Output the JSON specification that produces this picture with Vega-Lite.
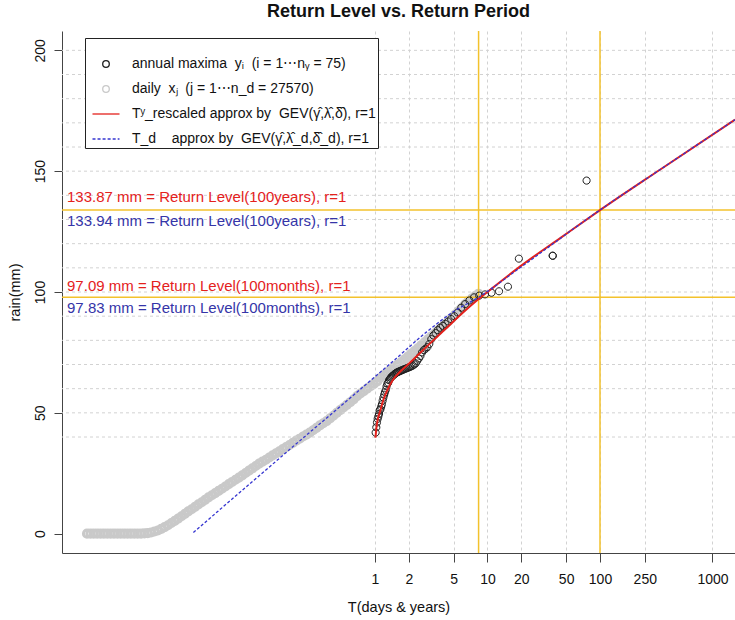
{
  "$schema": "https://vega.github.io/schema/vega-lite/v6.json",
  "width": 673,
  "height": 522,
  "autosize": {"type": "none"},
  "padding": {"left": 62, "top": 31, "right": 0, "bottom": 67},
  "background": "white",
  "title": {"text": "Return Level vs. Return Period", "fontSize": 18, "fontWeight": "bold", "font": "Liberation Sans", "color": "#111", "offset": 9},
  "config": {
    "view": {"stroke": null},
    "font": "Liberation Sans",
    "axis": {"labelFont": "Liberation Sans", "titleFont": "Liberation Sans", "labelColor": "#111", "titleColor": "#111", "domainColor": "#444", "tickColor": "#444", "labelFontSize": 14, "titleFontSize": 14.5, "titleFontWeight": "normal", "gridColor": "#d2d2d2", "gridDash": [3, 3], "gridWidth": 1}
  },
  "datasets": {
    "gridY": [{"v": 40}, {"v": 50}, {"v": 60}, {"v": 70}, {"v": 80}, {"v": 90}, {"v": 100}, {"v": 110}, {"v": 120}, {"v": 130}, {"v": 140}, {"v": 150}, {"v": 160}, {"v": 170}, {"v": 180}, {"v": 190}, {"v": 200}],
    "refT": [{"T": 8.333}, {"T": 100}],
    "refV": [{"v": 97.83}, {"v": 133.94}],
    "levelsY": [
      {"v": 133.87, "label": "133.87 mm = Return Level(100years), r=1"},
      {"v": 97.09, "label": "97.09 mm = Return Level(100months), r=1"}
    ],
    "levelsD": [
      {"v": 133.94, "label": "133.94 mm = Return Level(100years), r=1"},
      {"v": 97.83, "label": "97.83 mm = Return Level(100months), r=1"}
    ],
    "daily": [
      {"T": 0.002754, "v": 0}, {"T": 0.002951, "v": 0}, {"T": 0.003162, "v": 0}, {"T": 0.003388, "v": 0}, {"T": 0.003631, "v": 0}, {"T": 0.00389, "v": 0}, {"T": 0.004169, "v": 0}, {"T": 0.004467, "v": 0}, {"T": 0.004786, "v": 0}, {"T": 0.005129, "v": 0}, {"T": 0.005495, "v": 0}, {"T": 0.005888, "v": 0}, {"T": 0.00631, "v": 0}, {"T": 0.006761, "v": 0}, {"T": 0.007244, "v": 0}, {"T": 0.007762, "v": 0}, {"T": 0.008318, "v": 0}, {"T": 0.008913, "v": 0.1}, {"T": 0.00955, "v": 0.2}, {"T": 0.01023, "v": 0.5}, {"T": 0.01096, "v": 0.9}, {"T": 0.01175, "v": 1.3}, {"T": 0.01259, "v": 2.0}, {"T": 0.01349, "v": 2.7}, {"T": 0.01445, "v": 3.5}, {"T": 0.01549, "v": 4.4}, {"T": 0.0166, "v": 5.3}, {"T": 0.01778, "v": 6.2}, {"T": 0.01905, "v": 7.2}, {"T": 0.02042, "v": 8.2}, {"T": 0.02188, "v": 9.2}, {"T": 0.02344, "v": 10.1}, {"T": 0.02512, "v": 11.1}, {"T": 0.02692, "v": 12.1}, {"T": 0.02884, "v": 13.0}, {"T": 0.0309, "v": 14.0}, {"T": 0.03311, "v": 15.0}, {"T": 0.03548, "v": 15.9}, {"T": 0.03802, "v": 16.8}, {"T": 0.04074, "v": 17.7}, {"T": 0.04365, "v": 18.6}, {"T": 0.04677, "v": 19.5}, {"T": 0.05012, "v": 20.5}, {"T": 0.0537, "v": 21.4}, {"T": 0.05754, "v": 22.3}, {"T": 0.06166, "v": 23.2}, {"T": 0.06607, "v": 24.1}, {"T": 0.07079, "v": 25.1}, {"T": 0.07586, "v": 26.1}, {"T": 0.08128, "v": 27.0}, {"T": 0.0871, "v": 28.0}, {"T": 0.09333, "v": 29.0}, {"T": 0.1, "v": 29.8}, {"T": 0.1072, "v": 30.6}, {"T": 0.1148, "v": 31.5}, {"T": 0.123, "v": 32.4}, {"T": 0.1318, "v": 33.2}, {"T": 0.1413, "v": 34.1}, {"T": 0.1514, "v": 35.0}, {"T": 0.1622, "v": 35.8}, {"T": 0.1738, "v": 36.7}, {"T": 0.1862, "v": 37.6}, {"T": 0.1995, "v": 38.5}, {"T": 0.2138, "v": 39.3}, {"T": 0.2291, "v": 40.2}, {"T": 0.2455, "v": 41.0}, {"T": 0.263, "v": 41.8}, {"T": 0.2818, "v": 42.8}, {"T": 0.302, "v": 43.8}, {"T": 0.3236, "v": 44.8}, {"T": 0.3467, "v": 45.7}, {"T": 0.3715, "v": 46.6}, {"T": 0.3981, "v": 47.7}, {"T": 0.4266, "v": 48.8}, {"T": 0.4571, "v": 50.0}, {"T": 0.4898, "v": 51.1}, {"T": 0.5248, "v": 52.2}, {"T": 0.5623, "v": 53.3}, {"T": 0.6026, "v": 54.4}, {"T": 0.6457, "v": 55.6}, {"T": 0.6918, "v": 56.9}, {"T": 0.7413, "v": 58.0}, {"T": 0.7943, "v": 59.0}, {"T": 0.8511, "v": 60.0}, {"T": 0.912, "v": 61.0}, {"T": 0.9772, "v": 62.0}, {"T": 1.047, "v": 63.0}, {"T": 1.122, "v": 64.5}, {"T": 1.202, "v": 65.7}, {"T": 1.288, "v": 66.8}, {"T": 1.38, "v": 67.8}, {"T": 1.479, "v": 68.9}, {"T": 1.585, "v": 69.9}, {"T": 1.698, "v": 70.9}, {"T": 1.82, "v": 72.0}, {"T": 1.95, "v": 73.2}, {"T": 2.089, "v": 74.4}, {"T": 2.239, "v": 75.6}, {"T": 2.399, "v": 76.7}, {"T": 2.57, "v": 77.9}, {"T": 2.754, "v": 79.2}, {"T": 2.951, "v": 80.4}, {"T": 3.162, "v": 81.6}, {"T": 3.388, "v": 82.8}, {"T": 3.631, "v": 84.1}, {"T": 3.89, "v": 85.3}, {"T": 4.169, "v": 86.5}, {"T": 4.467, "v": 87.8}, {"T": 4.786, "v": 89.2}, {"T": 5.129, "v": 90.6}, {"T": 5.495, "v": 92.0}, {"T": 5.888, "v": 93.4}, {"T": 6.31, "v": 94.9}, {"T": 6.761, "v": 96.2}, {"T": 7.244, "v": 97.3}, {"T": 7.762, "v": 98.3}, {"T": 8.318, "v": 99.3}
    ],
    "annual": [
      {"T": 1.0133, "v": 41.8}, {"T": 1.027, "v": 44}, {"T": 1.0411, "v": 46}, {"T": 1.0556, "v": 47.5}, {"T": 1.0704, "v": 48.5}, {"T": 1.0857, "v": 49.5}, {"T": 1.1014, "v": 51}, {"T": 1.1176, "v": 51.5}, {"T": 1.1343, "v": 52.5}, {"T": 1.1515, "v": 53.5}, {"T": 1.1692, "v": 55}, {"T": 1.1875, "v": 56.3}, {"T": 1.2063, "v": 57.5}, {"T": 1.2258, "v": 58.5}, {"T": 1.2459, "v": 59.5}, {"T": 1.2667, "v": 61}, {"T": 1.2881, "v": 62}, {"T": 1.3103, "v": 62.5}, {"T": 1.3333, "v": 63.5}, {"T": 1.3571, "v": 64}, {"T": 1.3818, "v": 64.5}, {"T": 1.4074, "v": 65}, {"T": 1.434, "v": 65.3}, {"T": 1.4615, "v": 65.6}, {"T": 1.4902, "v": 66}, {"T": 1.52, "v": 66.3}, {"T": 1.551, "v": 66.6}, {"T": 1.5833, "v": 66.8}, {"T": 1.617, "v": 67}, {"T": 1.6522, "v": 67.2}, {"T": 1.6889, "v": 67.4}, {"T": 1.7273, "v": 67.6}, {"T": 1.7674, "v": 67.8}, {"T": 1.8095, "v": 68}, {"T": 1.8537, "v": 68.2}, {"T": 1.9, "v": 68.4}, {"T": 1.9487, "v": 68.6}, {"T": 2.0, "v": 68.8}, {"T": 2.0541, "v": 69}, {"T": 2.1111, "v": 69.3}, {"T": 2.1714, "v": 69.6}, {"T": 2.2353, "v": 70}, {"T": 2.303, "v": 70.5}, {"T": 2.375, "v": 71.5}, {"T": 2.4516, "v": 72.5}, {"T": 2.5333, "v": 73.5}, {"T": 2.6207, "v": 75}, {"T": 2.7143, "v": 76}, {"T": 2.8148, "v": 76.5}, {"T": 2.9231, "v": 77.2}, {"T": 3.04, "v": 78.5}, {"T": 3.1667, "v": 80.5}, {"T": 3.3043, "v": 82}, {"T": 3.4545, "v": 83}, {"T": 3.619, "v": 84.2}, {"T": 3.8, "v": 85.2}, {"T": 4.0, "v": 86}, {"T": 4.2222, "v": 86.8}, {"T": 4.4706, "v": 87.8}, {"T": 4.75, "v": 88.8}, {"T": 5.0667, "v": 90}, {"T": 5.4286, "v": 91.5}, {"T": 5.8462, "v": 93.5}, {"T": 6.3333, "v": 95}, {"T": 6.9091, "v": 96.5}, {"T": 7.6, "v": 97.8}, {"T": 8.4444, "v": 98.5}, {"T": 9.5, "v": 99}, {"T": 10.857, "v": 99.7}, {"T": 12.667, "v": 100.3}, {"T": 15.2, "v": 102.2}, {"T": 19.0, "v": 113.8}, {"T": 38.0, "v": 115}, {"T": 38.0, "v": 115}, {"T": 76.0, "v": 146.1}
    ],
    "gevY": [
      {"T": 1.01, "v": 39.7}, {"T": 1.03, "v": 44}, {"T": 1.06, "v": 47.5}, {"T": 1.108, "v": 50.5}, {"T": 1.18, "v": 55}, {"T": 1.27, "v": 58.8}, {"T": 1.445, "v": 63.7}, {"T": 1.67, "v": 67}, {"T": 2.05, "v": 70.8}, {"T": 2.88, "v": 77.4}, {"T": 4.34, "v": 85.2}, {"T": 6.06, "v": 91.5}, {"T": 8.333, "v": 97.09}, {"T": 11.2, "v": 101.8}, {"T": 19.4, "v": 110.5}, {"T": 44.3, "v": 122.3}, {"T": 100, "v": 133.87}, {"T": 341, "v": 150.6}, {"T": 1585, "v": 171.3}
    ],
    "gevD": [
      {"T": 0.0243, "v": 0.5}, {"T": 0.0774, "v": 20.7}, {"T": 0.2154, "v": 38.5}, {"T": 0.736, "v": 59.6}, {"T": 1.5, "v": 72}, {"T": 2.88, "v": 83.5}, {"T": 5.0, "v": 91.9}, {"T": 8.333, "v": 97.83}, {"T": 19.45, "v": 110}, {"T": 100, "v": 133.94}, {"T": 341, "v": 150.6}, {"T": 1585, "v": 171.3}
    ]
  },
  "layer": [
    {
      "data": {"name": "daily"},
      "mark": {"type": "point", "filled": false, "size": 230, "strokeWidth": 3, "opacity": 1},
      "encoding": {
        "x": {
          "field": "T", "type": "quantitative",
          "scale": {"type": "log", "domain": [0.001651, 1585], "nice": false},
          "axis": {"title": "T(days & years)", "values": [1, 2, 5, 10, 20, 50, 100, 250, 1000], "format": "d", "tickSize": 9, "labelPadding": 10, "titlePadding": 14, "grid": true, "labelFlush": false, "labelOverlap": false}
        },
        "y": {
          "field": "v", "type": "quantitative",
          "scale": {"domain": [-8, 208], "nice": false, "zero": false},
          "axis": {
            "title": "rain(mm)",
            "values": [0, 50, 100, 150, 200],
            "grid": false, "tickSize": 8, "labelAngle": -90, "labelAlign": "center", "labelBaseline": "middle", "labelPadding": 14, "titlePadding": 11, "labelFlush": false, "labelOverlap": false
          }
        },
        "color": {
          "datum": "d", "type": "nominal",
          "scale": {"domain": ["a", "d", "y", "t"], "range": ["#1e1e1e", "#c9c9c9", "#e4211c", "#3535d0"]},
          "legend": {
            "title": "\u00a0", "titleFontSize": 10, "titlePadding": 6, "orient": "none", "legendX": 23, "legendY": 7,
            "labelExpr": "{'a': 'annual maxima\u00a0\u00a0yᵢ\u00a0\u00a0(i = 1⋯nᵧ = 75)', 'd': 'daily\u00a0\u00a0xⱼ\u00a0\u00a0(j = 1⋯n_d = 27570)', 'y': 'Tʸ_rescaled approx by\u00a0\u00a0GEV(γ̂,λ̂,δ̂), r=1', 't': 'T_d\u00a0\u00a0\u00a0\u00a0approx by\u00a0\u00a0GEV(γ̂,λ̂_d,δ̂_d), r=1'}[datum.value]",
            "labelFontSize": 14, "labelColor": "#111", "labelLimit": 400, "labelOffset": 18,
            "symbolSize": 196, "symbolOffset": 11, "symbolStrokeWidth": 1.3, "rowPadding": 10, "padding": 2,
            "strokeColor": "#222", "fillColor": "white"
          }
        },
        "shape": {
          "datum": "d", "type": "nominal",
          "scale": {"domain": ["a", "d", "y", "t"], "range": [
            "M-0.47,0A0.47,0.47,0,1,0,0.47,0A0.47,0.47,0,1,0,-0.47,0Z",
            "M-0.47,0A0.47,0.47,0,1,0,0.47,0A0.47,0.47,0,1,0,-0.47,0Z",
            "M-1.93,0H1.93",
            "M-1.93,0H-1.5M-1.21,0H-0.78M-0.49,0H-0.06M0.23,0H0.66M0.95,0H1.38M1.67,0H1.93"
          ]},
          "legend": {
            "title": "\u00a0", "titleFontSize": 10, "titlePadding": 6, "orient": "none", "legendX": 23, "legendY": 7,
            "labelExpr": "{'a': 'annual maxima\u00a0\u00a0yᵢ\u00a0\u00a0(i = 1⋯nᵧ = 75)', 'd': 'daily\u00a0\u00a0xⱼ\u00a0\u00a0(j = 1⋯n_d = 27570)', 'y': 'Tʸ_rescaled approx by\u00a0\u00a0GEV(γ̂,λ̂,δ̂), r=1', 't': 'T_d\u00a0\u00a0\u00a0\u00a0approx by\u00a0\u00a0GEV(γ̂,λ̂_d,δ̂_d), r=1'}[datum.value]",
            "labelFontSize": 14, "labelColor": "#111", "labelLimit": 400, "labelOffset": 18,
            "symbolSize": 196, "symbolOffset": 11, "symbolStrokeWidth": 1.3, "rowPadding": 10, "padding": 2,
            "strokeColor": "#222", "fillColor": "white"
          }
        }
      }
    },
    {
      "data": {"name": "gridY"},
      "mark": {"type": "rule", "stroke": "#d2d2d2", "strokeWidth": 1, "strokeDash": [3, 3]},
      "encoding": {
        "y": {"field": "v", "type": "quantitative", "scale": {"domain": [-8, 208], "nice": false, "zero": false}}
      }
    },
    {
      "data": {"name": "refT"},
      "mark": {"type": "rule", "stroke": "#f3c22c", "strokeWidth": 1.5},
      "encoding": {
        "x": {"field": "T", "type": "quantitative", "scale": {"type": "log", "domain": [0.001651, 1585], "nice": false}}
      }
    },
    {
      "data": {"name": "refV"},
      "mark": {"type": "rule", "stroke": "#f3c22c", "strokeWidth": 1.5},
      "encoding": {
        "y": {"field": "v", "type": "quantitative", "scale": {"domain": [-8, 208], "nice": false, "zero": false}}
      }
    },
    {
      "data": {"name": "annual"},
      "mark": {"type": "point", "filled": false, "size": 230, "strokeWidth": 1, "opacity": 1},
      "encoding": {
        "x": {"field": "T", "type": "quantitative", "scale": {"type": "log", "domain": [0.001651, 1585], "nice": false}},
        "y": {"field": "v", "type": "quantitative", "scale": {"domain": [-8, 208], "nice": false, "zero": false}},
        "color": {"datum": "a", "type": "nominal"},
        "shape": {"datum": "a", "type": "nominal"}
      }
    },
    {
      "data": {"name": "gevY"},
      "mark": {"type": "line", "strokeWidth": 2, "interpolate": "monotone"},
      "encoding": {
        "x": {"field": "T", "type": "quantitative", "scale": {"type": "log", "domain": [0.001651, 1585], "nice": false}},
        "y": {"field": "v", "type": "quantitative", "scale": {"domain": [-8, 208], "nice": false, "zero": false}},
        "color": {"datum": "y", "type": "nominal"}
      }
    },
    {
      "data": {"name": "gevD"},
      "mark": {"type": "line", "strokeWidth": 1.3, "strokeDash": [3, 2], "interpolate": "monotone"},
      "encoding": {
        "x": {"field": "T", "type": "quantitative", "scale": {"type": "log", "domain": [0.001651, 1585], "nice": false}},
        "y": {"field": "v", "type": "quantitative", "scale": {"domain": [-8, 208], "nice": false, "zero": false}},
        "color": {"datum": "t", "type": "nominal"}
      }
    },
    {
      "data": {"name": "levelsY"},
      "mark": {"type": "text", "align": "left", "baseline": "middle", "dy": -13, "fontSize": 15, "font": "Liberation Sans", "color": "#e4211c"},
      "encoding": {
        "x": {"datum": 0.00183, "type": "quantitative"},
        "y": {"field": "v", "type": "quantitative", "scale": {"domain": [-8, 208], "nice": false, "zero": false}},
        "text": {"field": "label"}
      }
    },
    {
      "data": {"name": "levelsD"},
      "mark": {"type": "text", "align": "left", "baseline": "middle", "dy": 11, "fontSize": 15, "font": "Liberation Sans", "color": "#3535a8"},
      "encoding": {
        "x": {"datum": 0.00183, "type": "quantitative"},
        "y": {"field": "v", "type": "quantitative", "scale": {"domain": [-8, 208], "nice": false, "zero": false}},
        "text": {"field": "label"}
      }
    },
    {
      "mark": {"type": "rule", "stroke": "#444", "strokeWidth": 1},
      "encoding": {
        "y": {"datum": 208, "type": "quantitative"}
      }
    }
  ]
}
